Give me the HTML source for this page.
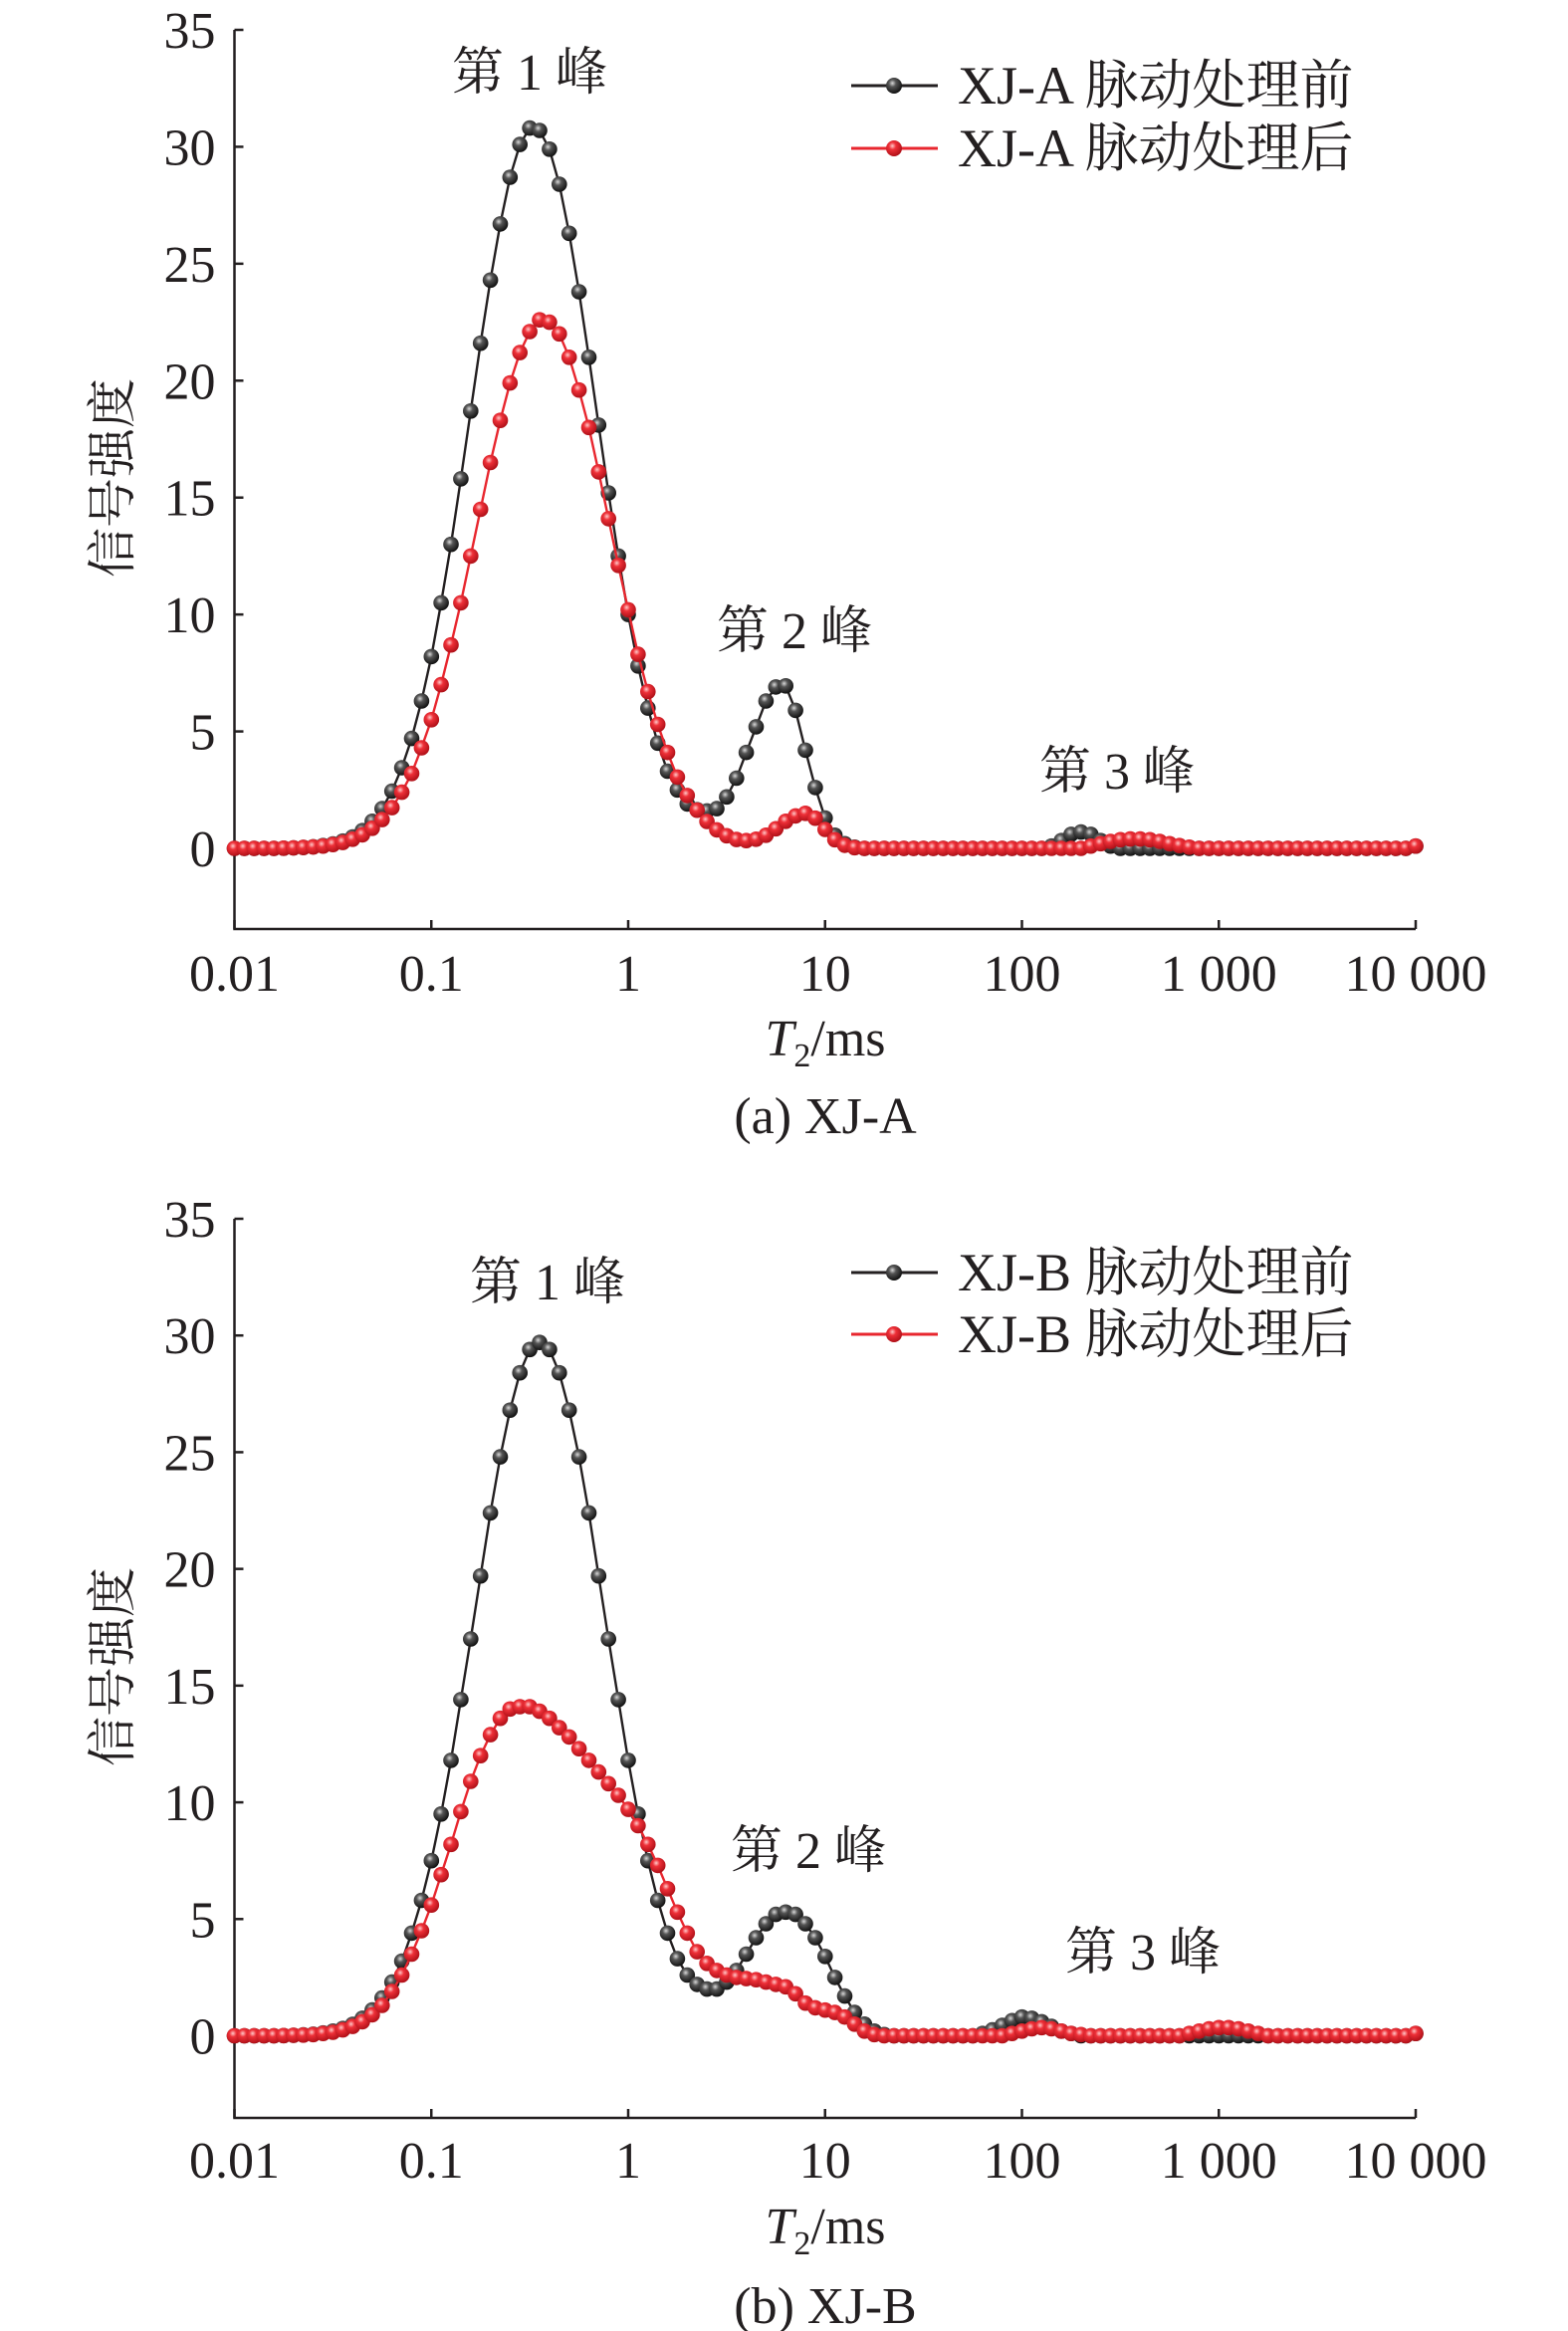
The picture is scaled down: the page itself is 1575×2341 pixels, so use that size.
<!DOCTYPE html>
<html><head><meta charset="utf-8">
<style>
html,body{margin:0;padding:0;background:#fff;}
svg{display:block;}
text{font-family:"Liberation Serif","Noto Serif CJK SC",serif;fill:#231f20;}
</style></head>
<body>
<svg id="fig" width="1575" height="2341" viewBox="0 0 1575 2341" xmlns="http://www.w3.org/2000/svg">
<defs>
<radialGradient id="gBlack" cx="0.4" cy="0.35" r="0.65">
<stop offset="0" stop-color="#d8d8d8"/><stop offset="0.35" stop-color="#555"/><stop offset="1" stop-color="#111"/>
</radialGradient>
<radialGradient id="gRed" cx="0.4" cy="0.35" r="0.65">
<stop offset="0" stop-color="#ffc8c8"/><stop offset="0.35" stop-color="#ee3038"/><stop offset="1" stop-color="#b01018"/>
</radialGradient>
</defs>
</svg>
<script>
// log10(T2/ms) grid: -2 .. 4 step 0.05 (categories)
const t2Log = [];
for (let i = 0; i <= 120; i++) t2Log.push(Math.round((-2 + 0.05 * i) * 100) / 100);
const xTickLabels = ["0.01","0.1","1","10","100","1 000","10 000"];
const yTickLabels = ["0","5","10","15","20","25","30","35"];

const seriesA_before = [0,0,0,0,0,.01,.02,.04,.07,.12,.19,.31,.49,.76,1.16,1.7,2.45,3.45,4.7,6.3,8.2,10.5,13.0,15.8,18.7,21.6,24.3,26.7,28.7,30.1,30.8,30.7,29.9,28.4,26.3,23.8,21.0,18.1,15.2,12.5,10.0,7.8,6.0,4.5,3.3,2.5,1.9,1.65,1.6,1.7,2.2,3.0,4.1,5.2,6.3,6.9,6.95,5.9,4.2,2.6,1.3,.56,.2,.05,
0,0,0,0,0,0,0,0,0,0,0,0,0,0,0,0,0,0,0,
.1,.33,.6,.7,.6,.33,.1,
0,0,0,0,0,0,0,0,0,0,0,0,0,0,0,0,0,0,0,0,0,0,0,0,0,0,0,0,0,0,.1];
const seriesA_after = [0,0,0,0,0,.01,.02,.04,.06,.1,.16,.25,.39,.58,.86,1.23,1.74,2.4,3.2,4.3,5.5,7.0,8.7,10.5,12.5,14.5,16.5,18.3,19.9,21.2,22.1,22.6,22.5,22.0,21.0,19.6,18.0,16.1,14.1,12.1,10.2,8.3,6.7,5.3,4.1,3.05,2.26,1.63,1.15,.79,.54,.38,.33,.39,.56,.84,1.16,1.39,1.5,1.29,.81,.37,.13,.03,
0,0,0,0,0,0,0,0,0,0,0,0,0,0,0,0,0,0,0,0,0,0,0,
.1,.2,.3,.37,.4,.4,.37,.3,.2,.12,.05,
0,0,0,0,0,0,0,0,0,0,0,0,0,0,0,0,0,0,0,0,0,0,.1];
const seriesB_before = [0,0,0,0,0,.01,.02,.04,.07,.12,.2,.31,.49,.75,1.11,1.62,2.3,3.2,4.4,5.8,7.5,9.5,11.8,14.4,17.0,19.7,22.4,24.8,26.8,28.4,29.4,29.7,29.4,28.4,26.8,24.8,22.4,19.7,17.0,14.4,11.8,9.5,7.5,5.8,4.4,3.3,2.6,2.2,2.0,2.0,2.3,2.8,3.5,4.2,4.8,5.2,5.3,5.2,4.8,4.2,3.4,2.5,1.7,1.0,
.5,.2,.05,
0,0,0,0,0,0,0,0,0,
.1,.25,.45,.65,.8,.75,.6,.4,.2,.1,
0,0,0,0,0,0,0,0,0,0,0,0,0,0,0,0,0,0,0,0,0,0,0,0,0,0,0,0,0,0,0,0,0,0,.1];
const seriesB_after = [0,0,0,0,0,.01,.02,.03,.05,.1,.15,.25,.4,.6,.9,1.3,1.9,2.6,3.5,4.5,5.6,6.9,8.2,9.6,10.9,12.0,12.9,13.6,14.0,14.1,14.1,13.9,13.6,13.2,12.8,12.3,11.8,11.3,10.8,10.3,9.7,9.0,8.2,7.3,6.3,5.3,4.4,3.6,3.1,2.8,2.6,2.5,2.45,2.4,2.3,2.2,2.1,1.8,1.4,1.2,1.1,1.0,.8,.5,
.2,.05,
0,0,0,0,0,0,0,0,0,0,0,0,0,
.1,.2,.3,.35,.3,.2,.1,.05,
0,0,0,0,0,0,0,0,0,0,
.1,.2,.3,.35,.35,.3,.2,.1,
0,0,0,0,0,0,0,0,0,0,0,0,0,0,0,.1];

const NS = "http://www.w3.org/2000/svg";
const svg = document.getElementById('fig');
function mk(tag, attrs, parent) {
  const e = document.createElementNS(NS, tag);
  for (const k in attrs) e.setAttribute(k, attrs[k]);
  (parent || svg).appendChild(e);
  return e;
}

function drawChart(cfg) {
  const g = mk('g', {});
  
  
  const x0 = 235.5, dec = 197.75;
  const xs = v => x0 + (v + 2) * dec;
  const yScale = (cfg.y0 - cfg.y35) / 35;
  const ys = v => cfg.y0 - v * yScale;
  const yBottom = cfg.yBottom;
  const xRight = xs(4);
  const ax = mk('path', {d:`M${x0},${ys(35)} V${yBottom} H${xRight}`, fill:'none', stroke:'#231f20', 'stroke-width':2.5}, g);
  
  
  yTickLabels.forEach((lab, i) => {
    const v = i * 5, y = ys(v);
    mk('line', {x1:x0, x2:x0+9, y1:y, y2:y, stroke:'#231f20', 'stroke-width':2.5}, g);
    const t = mk('text', {x:x0-19, y:y+18, 'text-anchor':'end', 'font-size':52}, g);
    t.textContent = lab;
    
    
  });
  xTickLabels.forEach((lab, i) => {
    const x = xs(i - 2);
    mk('line', {x1:x, x2:x, y1:yBottom, y2:yBottom-9, stroke:'#231f20', 'stroke-width':2.5}, g);
    const t = mk('text', {x:x, y:cfg.xLabY, 'text-anchor':'middle', 'font-size':52}, g);
    t.textContent = lab;
    
    
  });
  const xt = mk('text', {x:829, y:cfg.xTitleY, 'text-anchor':'middle', 'font-size':52}, g);
  xt.innerHTML = '<tspan font-style="italic">T</tspan><tspan font-size="34" dy="11">2</tspan><tspan dy="-11">/ms</tspan>';
  
  
  const yt = mk('text', {x:0, y:0, 'text-anchor':'middle', 'font-size':50, transform:`translate(130,${cfg.yTitleY}) rotate(-90)`}, g);
  yt.textContent = '信号强度';
  
  
  const cap = mk('text', {x:829, y:cfg.capY, 'text-anchor':'middle', 'font-size':52}, g);
  cap.textContent = cfg.caption;
  
  
  const series = [
    {vals: cfg.before, col:'#231f20', grad:'url(#gBlack)', name:'before'},
    {vals: cfg.after, col:'#e8262e', grad:'url(#gRed)', name:'after'}
  ];
  series.forEach(s => {
    const sg = mk('g', {}, g);
    
    
    const d = s.vals.map((v, i) => (i ? 'L' : 'M') + xs(t2Log[i]).toFixed(1) + ',' + ys(v).toFixed(1)).join(' ');
    mk('path', {d:d, fill:'none', stroke:s.col, 'stroke-width':2.4}, sg);
    s.vals.forEach((v, i) => {
      const c = mk('circle', {cx:xs(t2Log[i]).toFixed(1), cy:ys(v).toFixed(1), r:7.8, fill:s.grad}, sg);
      
      
    });
  });
  cfg.peaks.forEach((p, i) => {
    const t = mk('text', {x:p[0], y:p[1]+18, 'text-anchor':'middle', 'font-size':52}, g);
    t.textContent = '第 ' + (i + 1) + ' 峰';
    
    
  });
  const lg = mk('g', {}, g);
  
  
  [[cfg.legY[0], '#231f20', 'url(#gBlack)', cfg.id + ' 脉动处理前'], [cfg.legY[1], '#e8262e', 'url(#gRed)', cfg.id + ' 脉动处理后']].forEach(L => {
    const e = mk('g', {}, lg);
    
    
    mk('line', {x1:855, x2:942, y1:L[0], y2:L[0], stroke:L[1], 'stroke-width':3}, e);
    mk('circle', {cx:898, cy:L[0], r:8, fill:L[2]}, e);
    const t = mk('text', {x:962, y:L[0]+18, 'font-size':54}, e);
    t.textContent = L[3];
  });
}

drawChart({id:'XJ-A', caption:'(a) XJ-A', y0:852, y35:30, yBottom:933, xLabY:995, xTitleY:1060, yTitleY:480, capY:1138,
  before:seriesA_before, after:seriesA_after,
  peaks:[[532,72],[798,633],[1122,774]], legY:[86,149]});
drawChart({id:'XJ-B', caption:'(b) XJ-B', y0:2044.5, y35:1224, yBottom:2127, xLabY:2187, xTitleY:2253, yTitleY:1674, capY:2333,
  before:seriesB_before, after:seriesB_after,
  peaks:[[550,1287],[812,1858],[1148,1960]], legY:[1278,1340]});
</script>
</body></html>
